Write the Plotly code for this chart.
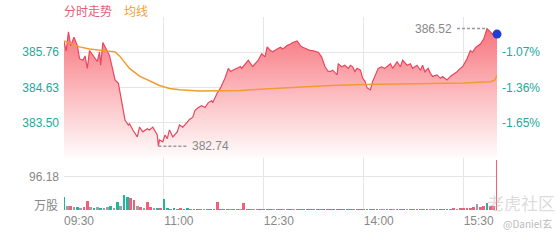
import plotly.graph_objects as go

# ---------------- data ----------------
# minutes since 09:30 and last price
price_min = [0, 2, 4, 6, 9, 12, 14, 17, 19, 21, 23, 26, 30, 32, 33, 35, 39, 41, 44, 46,
             49, 50, 53, 55, 58, 59, 62, 66, 68, 71, 75, 77, 80, 84, 85, 86, 89, 91, 93, 95,
             98, 102, 104, 107, 111, 113, 116, 118, 121, 124, 127, 130, 133, 134, 138, 141, 143, 145, 148, 150,
             152, 156, 159, 160, 163, 166, 168, 170, 175, 178, 181, 183, 186, 188, 192, 195, 197, 201, 204, 206,
             210, 213, 215, 219, 222, 224, 229, 232, 235, 238, 240, 242, 246, 247, 250, 253, 256, 258, 260, 262,
             264, 267, 269, 271, 273, 276, 277, 278, 283, 286, 289, 292, 294, 296, 300, 303, 305, 309, 312, 314,
             318, 321, 323, 325, 328, 330, 332, 336, 339, 341, 345, 348, 350, 354, 357, 359, 363, 366, 368, 371,
             375, 378, 381, 383, 386, 388, 390]
price_val = [386.11, 385.80, 386.41, 385.97, 386.24, 385.97, 385.55, 385.50, 385.64, 385.24, 385.81, 385.65, 385.46, 385.77, 385.34, 386.07, 385.81, 385.65, 385.18, 384.87,
             384.76, 384.55, 383.98, 383.57, 383.42, 383.46, 383.26, 383.04, 383.35, 383.20, 383.30, 383.26, 383.35, 383.10, 382.74, 382.94, 382.88, 383.10, 382.98, 383.26,
             383.04, 383.20, 383.42, 383.35, 383.51, 383.60, 383.67, 383.89, 383.98, 384.04, 383.98, 384.14, 384.20, 384.14, 384.45, 384.61, 384.77, 384.92, 385.24, 385.14,
             385.18, 385.24, 385.30, 385.24, 385.39, 385.50, 385.39, 385.30, 385.50, 385.71, 385.61, 385.93, 385.81, 385.77, 385.86, 385.92, 385.86, 385.97, 386.02, 386.07,
             386.12, 385.97, 385.92, 385.86, 385.81, 385.81, 385.76, 385.61, 385.30, 385.14, 385.14, 385.18, 385.03, 385.39, 385.29, 385.34, 385.24, 385.34, 385.29, 385.14,
             385.24, 385.18, 384.92, 384.83, 384.61, 384.55, 384.66, 384.82, 385.24, 385.29, 385.24, 385.34, 385.39, 385.24, 385.45, 385.29, 385.50, 385.34, 385.39, 385.24,
             385.34, 385.18, 385.34, 385.13, 385.24, 385.08, 384.98, 385.03, 384.92, 384.98, 384.87, 384.98, 385.03, 385.13, 385.24, 385.29, 385.55, 385.81, 385.76, 385.92,
             386.02, 386.18, 386.52, 386.44, 386.34, 386.39, 386.34]

avg_min = [0, 5, 14, 23, 32, 41, 46, 50, 55, 59, 68, 77, 86, 95, 104, 122, 141, 159, 180, 213,
           240, 270, 303, 360, 384, 388, 390]
avg_val = [386.12, 386.05, 385.93, 385.86, 385.82, 385.80, 385.77, 385.64, 385.42, 385.24, 384.99, 384.83, 384.69, 384.59, 384.55, 384.51, 384.51, 384.53, 384.58, 384.64,
           384.69, 384.72, 384.73, 384.77, 384.81, 384.86, 385.02]

vol_min = list(range(0, 391, 3))
vol_val = [38, 14, 12, 10, 9, 8, 10, 28, 9, 8, 9, 7, 8, 10, 12, 8, 24, 12, 45, 40,
           36, 30, 12, 10, 8, 25, 9, 7, 6, 8, 33, 6, 5, 6, 5, 6, 5, 6, 5, 4,
           5, 4, 5, 4, 4, 5, 24, 4, 4, 5, 4, 3, 4, 3, 22, 3, 4, 3, 4, 3,
           4, 3, 4, 3, 4, 3, 4, 3, 4, 3, 4, 3, 4, 3, 4, 3, 4, 5, 4, 5,
           4, 5, 4, 3, 4, 3, 4, 3, 4, 3, 5, 4, 3, 4, 3, 4, 3, 4, 3, 4,
           3, 4, 3, 4, 3, 4, 3, 4, 3, 4, 3, 4, 5, 4, 5, 4, 5, 6, 5, 6,
           7, 6, 8, 9, 18, 10, 14, 20, 14, 12, 147]
# u = up (red), d = down (green), f = flat (grey)
vol_dir = list("dfufdfuufdfdffdfdfdduufufuufdudduduuudu"
               "uuufuduuduufuufudufuduudfudfudfduuddudud"
               "ddddduuduuduuduuffudfuudfuuduudfuuduuduf"
               "uuuuufuuduuu")

x_tick_vals = [0, 90, 180, 270, 360, 390]
x_tick_text = ["09:30", "11:00", "12:30", "14:00", "15:30", ""]
price_ticks = [385.76, 384.63, 383.50]
price_tick_text = ["385.76", "384.63", "383.50"]
pct_tick_text = ["-1.07%", "-1.36%", "-1.65%"]
vol_ticks = [96.18]
vol_tick_text = ["96.18"]

# ---------------- styling ----------------
FONT = "Liberation Sans, Arial, Noto Sans CJK SC, sans-serif"
TEAL = "#23a89c"
RED = "#e8475e"
ORANGE = "#f39a30"
GRID = "#e6e6e6"
dir_colors = {"u": "#f0607a", "d": "#22b5a0", "f": "#a0a0a0"}

n = min(len(vol_val), len(vol_dir))
bar_colors = [dir_colors[vol_dir[i]] for i in range(n)]

fig = go.Figure()

fig.add_trace(go.Scatter(
    x=price_min, y=price_val, mode="lines",
    line=dict(color=RED, width=1.2),
    fill="tozeroy",
    fillgradient=dict(type="vertical",
                      colorscale=[[0, "rgba(255,255,255,1)"], [0.45, "#fcc3c6"], [1, "#f7717b"]],
                      start=382.37, stop=386.6),
    xaxis="x", yaxis="y", showlegend=False, hoverinfo="skip"))

fig.add_trace(go.Scatter(
    x=avg_min, y=avg_val, mode="lines", line=dict(color=ORANGE, width=1.5),
    xaxis="x", yaxis="y", showlegend=False, hoverinfo="skip"))

fig.add_trace(go.Scatter(
    x=[price_min[-1]], y=[price_val[-1]], mode="markers",
    marker=dict(color="#1f3fd0", size=9), cliponaxis=False,
    xaxis="x", yaxis="y", showlegend=False, hoverinfo="skip"))

fig.add_trace(go.Scatter(
    x=[price_min[0]], y=[price_val[0]], mode="markers", marker=dict(opacity=0),
    xaxis="x", yaxis="y3", showlegend=False, hoverinfo="skip"))

fig.add_trace(go.Bar(
    x=vol_min[:n], y=vol_val[:n], marker=dict(color=bar_colors, line=dict(width=0)),
    width=2.5, xaxis="x", yaxis="y2", showlegend=False, hoverinfo="skip"))

price_range = [382.37, 386.89]
split = 0.2712

fig.update_layout(
    width=560, height=240,
    margin=dict(l=64, r=63, t=17, b=25),
    paper_bgcolor="white", plot_bgcolor="white",
    font=dict(family=FONT, size=12, color="#888"),
    bargap=0,
    xaxis=dict(range=[0, 390], anchor="y2", tickvals=x_tick_vals, ticktext=x_tick_text,
               showgrid=True, gridcolor=GRID, gridwidth=1, zeroline=False, showline=False,
               ticks="", ticklabelshift=15, ticklabelstandoff=2,
               tickfont=dict(color="#888", size=12)),
    yaxis=dict(domain=[split, 1], range=price_range, tickvals=price_ticks, ticktext=price_tick_text,
               showgrid=True, gridcolor=GRID, zeroline=False, ticks="", ticklabelstandoff=4,
               tickfont=dict(color=TEAL, size=12)),
    yaxis3=dict(overlaying="y", side="right", range=price_range, tickvals=price_ticks,
                ticktext=pct_tick_text, showgrid=False, zeroline=False, ticks="",
                ticklabelstandoff=4, tickfont=dict(color=TEAL, size=12)),
    yaxis2=dict(domain=[0, split], range=[0, 151.9], tickvals=vol_ticks, ticktext=vol_tick_text,
                showgrid=True, gridcolor=GRID, zeroline=False, ticks="", ticklabelstandoff=4,
                tickfont=dict(color="#888", size=12)),
)

# extreme labels with dashed leaders
i_max = price_val.index(max(price_val))
i_min = price_val.index(min(price_val))
fig.add_shape(type="line", xref="x", yref="y",
              x0=price_min[i_max] - 27, x1=price_min[i_max], y0=price_val[i_max], y1=price_val[i_max],
              line=dict(color="#999", width=1.5, dash="3px,2px"))
fig.add_shape(type="line", xref="x", yref="y",
              x0=price_min[i_min], x1=price_min[i_min] + 26, y0=price_val[i_min], y1=price_val[i_min],
              line=dict(color="#999", width=1.5, dash="3px,2px"))
fig.add_annotation(x=price_min[i_max], y=price_val[i_max], xref="x", yref="y",
                   text=f"{price_val[i_max]:.2f}", showarrow=False, xanchor="right", xshift=-33,
                   font=dict(color="#888", size=12))
fig.add_annotation(x=price_min[i_min], y=price_val[i_min], xref="x", yref="y",
                   text=f"{price_val[i_min]:.2f}", showarrow=False, xanchor="left", xshift=32,
                   font=dict(color="#888", size=12))

# legend-like titles
fig.add_annotation(x=0, y=1, xref="paper", yref="paper", text="分时走势", showarrow=False,
                   xanchor="left", yanchor="middle", yshift=7, xshift=-2,
                   font=dict(color="#e35d72", size=12, family="Noto Sans CJK SC"))
fig.add_annotation(x=0, y=1, xref="paper", yref="paper", text="均线", showarrow=False,
                   xanchor="left", yanchor="middle", yshift=7, xshift=58,
                   font=dict(color="#f0a035", size=12, family="Noto Sans CJK SC"))

# volume unit label
fig.add_annotation(x=0, y=0, xref="paper", yref="y2", text="万股", showarrow=False,
                   xanchor="right", yanchor="middle", xshift=-4, yshift=5,
                   font=dict(color="#888", size=12, family="Noto Sans CJK SC"))

# watermark
fig.add_annotation(x=1, y=0, xref="paper", yref="paper", text="老虎社区", showarrow=False,
                   xanchor="left", yanchor="middle", xshift=-12, yshift=8,
                   font=dict(color="rgba(190,190,190,0.55)", size=17, family="Noto Sans CJK SC"))
fig.add_annotation(x=1, y=0, xref="paper", yref="paper", text="@Daniel玄", showarrow=False,
                   xanchor="left", yanchor="middle", xshift=4, yshift=-13,
                   font=dict(color="#bbb", size=10, family="Noto Sans CJK SC"))

fig.write_html("out.html")
